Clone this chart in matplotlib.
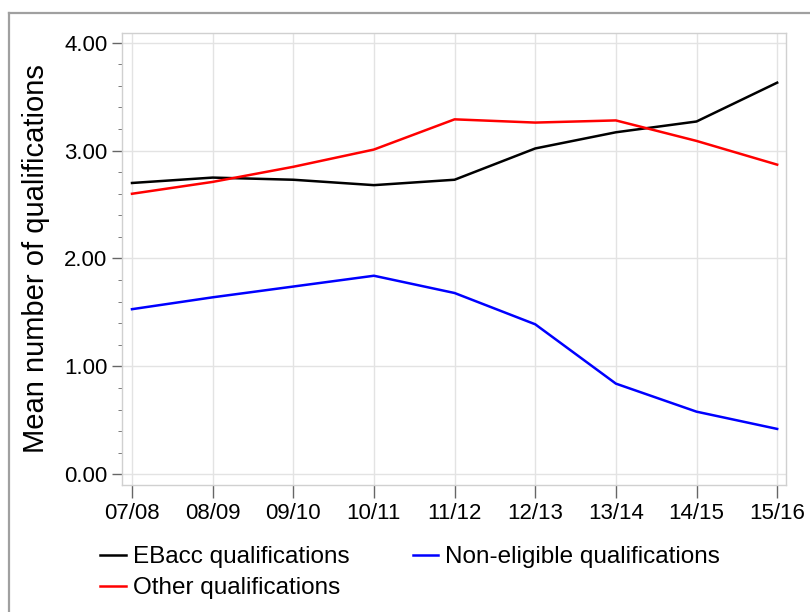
import numpy as np
import matplotlib.pyplot as plt
from matplotlib.lines import Line2D
from matplotlib.ticker import MultipleLocator, FormatStrFormatter

plt.rcParams['font.family'] = ['Liberation Sans', 'DejaVu Sans']

# data
years = ['07/08', '08/09', '09/10', '10/11', '11/12', '12/13', '13/14', '14/15', '15/16']
ebacc = [2.70, 2.75, 2.73, 2.68, 2.73, 3.02, 3.17, 3.27, 3.63]
other = [2.60, 2.71, 2.85, 3.01, 3.29, 3.26, 3.28, 3.09, 2.87]
non_eligible = [1.53, 1.64, 1.74, 1.84, 1.68, 1.39, 0.84, 0.58, 0.42]

fig = plt.figure(figsize=(8.1, 6.12), dpi=100)
ax = fig.add_axes([0.1506, 0.2075, 0.8198, 0.7385])

x = np.arange(len(years))
l1, = ax.plot(x, ebacc, color='black', lw=1.8, label='EBacc qualifications')
l2, = ax.plot(x, other, color='#ff0000', lw=1.8, label='Other qualifications')
l3, = ax.plot(x, non_eligible, color='#0000ff', lw=1.8, label='Non-eligible qualifications')

ax.set_xlim(-0.124, 8.11)
ax.set_ylim(-0.10, 4.09)
ax.set_xticks(x)
ax.set_xticklabels(years)
ax.yaxis.set_major_locator(MultipleLocator(1))
ax.yaxis.set_minor_locator(MultipleLocator(0.2))
ax.yaxis.set_major_formatter(FormatStrFormatter('%.2f'))

ax.grid(True, which='major', color='#e3e3e3', lw=1)
ax.set_axisbelow(True)
for s in ax.spines.values():
    s.set_color('#d0d0d0')
    s.set_linewidth(1)

ax.tick_params(axis='both', which='major', labelsize=16, color='#666666',
               direction='out', width=1)
ax.tick_params(axis='y', which='major', length=7.5, pad=3)
ax.tick_params(axis='x', which='major', length=9, pad=4)
ax.tick_params(axis='y', which='minor', length=3, color='#666666')

ax.set_ylabel('Mean number of qualifications', fontsize=21)
ax.yaxis.set_label_coords(-0.108, 0.5)

fig.legend(handles=[l1, l2, l3], ncol=2, loc='upper left',
           bbox_to_anchor=(100 / 810, 1 - 546 / 612), frameon=False,
           fontsize=17.5, handlelength=1.05, handletextpad=0.3,
           columnspacing=2.6, labelspacing=0.38, borderpad=0, borderaxespad=0)

# outer border
fig.add_artist(Line2D([9 / 810, 1], [1 - 13 / 612, 1 - 13 / 612], color='#a0a0a0', lw=1.6))
fig.add_artist(Line2D([9 / 810, 9 / 810], [0, 1 - 13 / 612], color='#a0a0a0', lw=1.6))

fig.savefig('out.png', dpi=100)
